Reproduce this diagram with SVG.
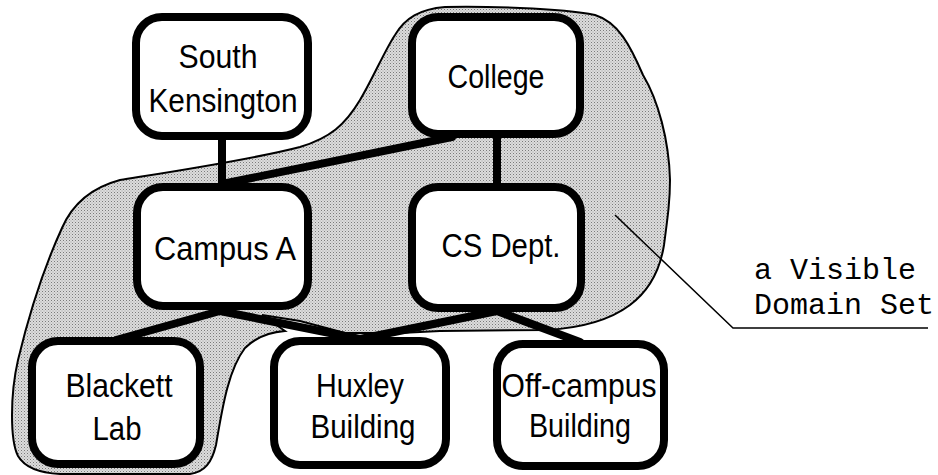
<svg xmlns="http://www.w3.org/2000/svg" width="938" height="475" viewBox="0 0 938 475">
<defs>
<pattern id="dots" width="3" height="3" patternUnits="userSpaceOnUse">
<rect width="3" height="3" fill="#dcdcdc"/>
<rect width="1" height="1" fill="#7a7a7a"/>
<rect x="1.5" y="1.5" width="1" height="1" fill="#a0a0a0"/>
</pattern>
</defs>
<style>
.box{fill:#fff;stroke:#000;stroke-width:8}
.edge{stroke:#000;stroke-width:8;fill:none;stroke-linecap:round}
.lbl{font-family:"Liberation Sans",Arial,sans-serif;font-size:34px;fill:#000;text-anchor:middle}
.note{font-family:"Liberation Mono","Courier New",monospace;font-size:30px;fill:#000}
</style>
<rect width="938" height="475" fill="#fff"/>
<g id="visible-domain-set">
<path d="M 285,331 L 262,315 L 300,321 L 345,333 L 400,333 L 440,331 L 547,330 C 580,328 610,320 630,305 C 650,290 660,270 664,245 C 668,215 670,200 670,180 C 669,140 658,100 643,75 C 630,45 618,22 595,15 C 560,8 480,6 445,7 C 420,9 405,18 395,35 C 385,50 372,80 360,100 C 345,125 330,138 300,147 C 250,160 170,172 120,180 C 90,188 72,205 62,228 C 45,265 30,310 18,360 C 10,395 10,440 18,456 C 25,468 40,473 60,474 L 190,474 C 205,472 212,462 216,445 C 222,410 228,370 245,348 C 258,335 272,332 285,331 Z" fill="url(#dots)" stroke="#000" stroke-width="2"/>
<polyline points="615,215 733,328 928,328" fill="none" stroke="#000" stroke-width="1.5"/>
<text class="note" x="754" y="279">a Visible</text>
<text class="note" x="754" y="314">Domain Set</text>
</g>
<g id="connectors">
<line class="edge" x1="222" y1="136" x2="222" y2="188"/>
<line class="edge" x1="497" y1="134" x2="497" y2="188"/>
<line class="edge" x1="222" y1="184" x2="452" y2="137"/>
<line class="edge" x1="220" y1="311" x2="116" y2="340"/>
<line class="edge" x1="220" y1="311" x2="360" y2="339"/>
<line class="edge" x1="497" y1="311" x2="360" y2="339"/>
<line class="edge" x1="497" y1="311" x2="580" y2="342"/>
</g>
<g id="south-kensington">
<rect class="box" x="136" y="17" width="172" height="119" rx="26"/>
<text class="lbl" x="218" y="68" textLength="79" lengthAdjust="spacingAndGlyphs">South</text>
<text class="lbl" x="223" y="112" textLength="149" lengthAdjust="spacingAndGlyphs">Kensington</text>
</g>
<g id="college">
<rect class="box" x="412" y="17" width="168" height="117" rx="26"/>
<text class="lbl" x="496" y="88" textLength="97" lengthAdjust="spacingAndGlyphs">College</text>
</g>
<g id="campus-a">
<rect class="box" x="137" y="187" width="171" height="119" rx="26"/>
<text class="lbl" x="225" y="260" textLength="142" lengthAdjust="spacingAndGlyphs">Campus A</text>
</g>
<g id="cs-dept">
<rect class="box" x="412" y="187" width="169" height="121" rx="26"/>
<text class="lbl" x="501" y="257" textLength="119" lengthAdjust="spacingAndGlyphs">CS Dept.</text>
</g>
<g id="blackett-lab">
<rect class="box" x="32" y="341" width="168" height="123" rx="26"/>
<text class="lbl" x="119" y="397" textLength="107" lengthAdjust="spacingAndGlyphs">Blackett</text>
<text class="lbl" x="117" y="440" textLength="49" lengthAdjust="spacingAndGlyphs">Lab</text>
</g>
<g id="huxley-building">
<rect class="box" x="274" y="341" width="172" height="124" rx="26"/>
<text class="lbl" x="360" y="397" textLength="88" lengthAdjust="spacingAndGlyphs">Huxley</text>
<text class="lbl" x="363" y="438" textLength="105" lengthAdjust="spacingAndGlyphs">Building</text>
</g>
<g id="off-campus-building">
<rect class="box" x="497" y="344" width="167" height="122" rx="26"/>
<text class="lbl" x="579" y="397" textLength="155" lengthAdjust="spacingAndGlyphs">Off-campus</text>
<text class="lbl" x="580" y="437" textLength="102" lengthAdjust="spacingAndGlyphs">Building</text>
</g>
</svg>
